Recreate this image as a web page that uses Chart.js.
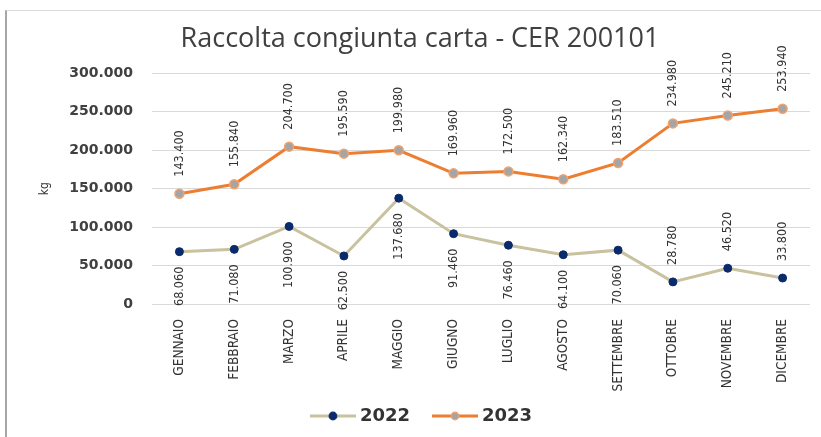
<!DOCTYPE html>
<html>
<head>
    <title>Raccolta congiunta carta</title>
    <script src="https://cdn.jsdelivr.net/npm/chart.js"></script>
    <style>
        body {
            margin: 0;
            background: #fff;
        }
        .wrap {
            position: relative;
            width: 821px;
            height: 437px;
        }
        .frame {
            position: absolute;
            left: 5px;
            top: 10px;
            right: 0;
            bottom: 0;
            border-left: 2px solid #a6a6a6;
            border-top: 1px solid #dcdcdc;
            pointer-events: none;
        }
    </style>
</head>
<body>
    <div class="wrap">
        <canvas id="chart" width="821" height="437"></canvas>
        <div class="frame"></div>
    </div>

    <script>
        // Data
        const months = ['GENNAIO', 'FEBBRAIO', 'MARZO', 'APRILE', 'MAGGIO', 'GIUGNO',
            'LUGLIO', 'AGOSTO', 'SETTEMBRE', 'OTTOBRE', 'NOVEMBRE', 'DICEMBRE'];
        const values2022 = [68060, 71080, 100900, 62500, 137680, 91460, 76460, 64100, 70060, 28780, 46520, 33800];
        const values2023 = [143400, 155840, 204700, 195590, 199980, 169960, 172500, 162340, 183510, 234980, 245210, 253940];
        // 2022 labels for these months sit above the point
        const labelsAbove2022 = [9, 10, 11];

        const condensed = '"DejaVu Sans Condensed", "Liberation Sans Narrow", sans-serif';

        function fmt(v) {
            return String(v).replace(/\B(?=(\d{3})+(?!\d))/g, '.');
        }

        // legend icon: line with a marker, drawn in the right part of the canvas
        function legendIcon(lineColor, fill, border) {
            const c = document.createElement('canvas');
            c.width = 63;
            c.height = 14;
            const g = c.getContext('2d');
            g.strokeStyle = lineColor;
            g.lineWidth = 3;
            g.beginPath();
            g.moveTo(17, 7);
            g.lineTo(63, 7);
            g.stroke();
            g.beginPath();
            g.arc(40, 7, 3.8, 0, Math.PI * 2);
            g.fillStyle = fill;
            g.fill();
            g.lineWidth = 1.2;
            g.strokeStyle = border;
            g.stroke();
            return c;
        }
        const icons = [
            legendIcon('#c9c29f', '#0b2a6b', '#0b2a6b'),
            legendIcon('#ed7d31', '#a5a5a5', '#f4a16a')
        ];

        // rotated value labels next to each point
        const valueLabels = {
            id: 'valueLabels',
            afterDatasetsDraw(chart) {
                const ctx = chart.ctx;
                ctx.save();
                ctx.font = '12.5px ' + condensed;
                ctx.fillStyle = '#333';
                ctx.textBaseline = 'middle';
                chart.data.datasets.forEach((ds, di) => {
                    const meta = chart.getDatasetMeta(di);
                    meta.data.forEach((pt, i) => {
                        const above = di === 1 || labelsAbove2022.includes(i);
                        ctx.save();
                        ctx.translate(pt.x, pt.y);
                        ctx.rotate(-Math.PI / 2);
                        if (above) {
                            ctx.textAlign = 'left';
                            ctx.fillText(fmt(ds.data[i]), 17, 0);
                        } else {
                            ctx.textAlign = 'right';
                            ctx.fillText(fmt(ds.data[i]), -15, 0);
                        }
                        ctx.restore();
                    });
                });
                ctx.restore();
            }
        };

        // title and legend sit a bit right of the centre in the reference
        const shiftBoxes = {
            id: 'shiftBoxes',
            afterLayout(chart) {
                chart.legend.left += 10;
                chart.legend.right += 10;
                chart.titleBlock.left += 15;
                chart.titleBlock.right += 15;
            }
        };

        const ctx = document.getElementById('chart').getContext('2d');
        const chart = new Chart(ctx, {
            type: 'line',
            data: {
                labels: months,
                datasets: [
                    {
                        label: '2022',
                        data: values2022,
                        borderColor: '#c9c29f',
                        borderWidth: 3,
                        pointBackgroundColor: '#0b2a6b',
                        pointBorderColor: '#0b2a6b',
                        pointRadius: 4,
                        pointBorderWidth: 1,
                        tension: 0
                    },
                    {
                        label: '2023',
                        data: values2023,
                        borderColor: '#ed7d31',
                        borderWidth: 3,
                        pointBackgroundColor: '#a5a5a5',
                        pointBorderColor: '#f4a16a',
                        pointRadius: 4.5,
                        pointBorderWidth: 1.5,
                        tension: 0
                    }
                ]
            },
            options: {
                responsive: false,
                animation: false,
                layout: {
                    padding: { left: 0, right: 11, top: 0, bottom: 2 }
                },
                plugins: {
                    title: {
                        display: true,
                        text: 'Raccolta congiunta carta - CER 200101',
                        color: '#404040',
                        font: { family: '"Open Sans", sans-serif', size: 27, weight: 'normal' },
                        padding: { top: 23, bottom: 18 }
                    },
                    legend: {
                        position: 'bottom',
                        labels: {
                            usePointStyle: true,
                            pointStyleWidth: 53,
                            padding: 10,
                            color: '#333',
                            font: { family: '"DejaVu Sans", sans-serif', size: 18, weight: 'bold' },
                            generateLabels(chart) {
                                const items = Chart.defaults.plugins.legend.labels.generateLabels(chart);
                                items.forEach((it, i) => { it.pointStyle = icons[i]; });
                                return items;
                            }
                        }
                    },
                    tooltip: { enabled: false }
                },
                scales: {
                    x: {
                        offset: true,
                        grid: { display: false },
                        border: { display: false },
                        ticks: {
                            color: '#333',
                            autoSkip: false,
                            minRotation: 90,
                            maxRotation: 90,
                            padding: 7,
                            font: { family: condensed, size: 13.5 }
                        },
                        afterFit(scale) { scale.height = 93; }
                    },
                    y: {
                        min: 0,
                        max: 300000,
                        grid: { color: '#d9d9d9', drawTicks: false },
                        border: { display: false },
                        ticks: {
                            stepSize: 50000,
                            color: '#404040',
                            padding: 19,
                            font: { family: '"DejaVu Sans", sans-serif', size: 14, weight: 'bold' },
                            callback: value => fmt(value)
                        },
                        title: {
                            display: true,
                            text: 'kg',
                            color: '#333',
                            font: { family: condensed, size: 12 },
                            padding: { top: 38, bottom: 0 }
                        },
                        afterFit(scale) { scale.width = 152; }
                    }
                }
            },
            plugins: [valueLabels, shiftBoxes]
        });
    </script>
</body>
</html>
